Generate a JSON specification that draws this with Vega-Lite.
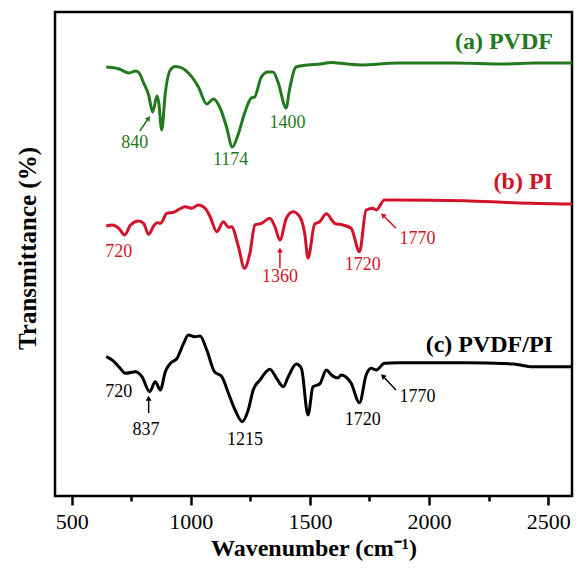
{
  "$schema": "https://vega.github.io/schema/vega-lite/v6.json",
  "width": 517,
  "height": 484,
  "autosize": {"type": "none"},
  "padding": {"left": 55, "top": 12, "right": 5, "bottom": 72},
  "config": {
    "view": {"stroke": "black", "strokeWidth": 2.5},
    "font": "Liberation Serif"
  },
  "datasets": {
    "spectra": [
      {"s":"PVDF","wn":645,"T":429},{"s":"PVDF","wn":700,"T":427},{"s":"PVDF","wn":740,"T":423},{"s":"PVDF","wn":768,"T":425},{"s":"PVDF","wn":782,"T":423.5},{"s":"PVDF","wn":802,"T":413},{"s":"PVDF","wn":823,"T":401},{"s":"PVDF","wn":840,"T":384},{"s":"PVDF","wn":858,"T":400},{"s":"PVDF","wn":865,"T":394},{"s":"PVDF","wn":878,"T":366},{"s":"PVDF","wn":893,"T":403},{"s":"PVDF","wn":914,"T":426},{"s":"PVDF","wn":935,"T":429.5},{"s":"PVDF","wn":963,"T":428},{"s":"PVDF","wn":990,"T":423},{"s":"PVDF","wn":1032,"T":409},{"s":"PVDF","wn":1067,"T":392},{"s":"PVDF","wn":1095,"T":397},{"s":"PVDF","wn":1123,"T":388},{"s":"PVDF","wn":1150,"T":369},{"s":"PVDF","wn":1174,"T":349},{"s":"PVDF","wn":1198,"T":361},{"s":"PVDF","wn":1226,"T":383},{"s":"PVDF","wn":1254,"T":398},{"s":"PVDF","wn":1268,"T":399},{"s":"PVDF","wn":1296,"T":419},{"s":"PVDF","wn":1324,"T":424},{"s":"PVDF","wn":1345,"T":424},{"s":"PVDF","wn":1366,"T":414},{"s":"PVDF","wn":1400,"T":388},{"s":"PVDF","wn":1414,"T":406},{"s":"PVDF","wn":1442,"T":429},{"s":"PVDF","wn":1490,"T":431},{"s":"PVDF","wn":1545,"T":432},{"s":"PVDF","wn":1589,"T":433.5},{"s":"PVDF","wn":1615,"T":433},{"s":"PVDF","wn":1714,"T":431},{"s":"PVDF","wn":1870,"T":433},{"s":"PVDF","wn":2100,"T":433},{"s":"PVDF","wn":2316,"T":432},{"s":"PVDF","wn":2450,"T":433},{"s":"PVDF","wn":2600,"T":433},
      {"s":"PI","wn":645,"T":270},{"s":"PI","wn":670,"T":271},{"s":"PI","wn":698,"T":267.7},{"s":"PI","wn":722,"T":261},{"s":"PI","wn":747,"T":271},{"s":"PI","wn":781,"T":275},{"s":"PI","wn":802,"T":272.7},{"s":"PI","wn":823,"T":261.7},{"s":"PI","wn":844,"T":270},{"s":"PI","wn":858,"T":273.3},{"s":"PI","wn":872,"T":272.7},{"s":"PI","wn":900,"T":282.7},{"s":"PI","wn":928,"T":283.7},{"s":"PI","wn":977,"T":289.3},{"s":"PI","wn":1004,"T":287.7},{"s":"PI","wn":1032,"T":291},{"s":"PI","wn":1060,"T":287.7},{"s":"PI","wn":1081,"T":279.3},{"s":"PI","wn":1109,"T":264.3},{"s":"PI","wn":1137,"T":274.3},{"s":"PI","wn":1158,"T":268.7},{"s":"PI","wn":1171,"T":269.3},{"s":"PI","wn":1200,"T":249.3},{"s":"PI","wn":1225,"T":227.7},{"s":"PI","wn":1248,"T":242.7},{"s":"PI","wn":1269,"T":271},{"s":"PI","wn":1297,"T":272.7},{"s":"PI","wn":1332,"T":277.7},{"s":"PI","wn":1353,"T":269.3},{"s":"PI","wn":1374,"T":256},{"s":"PI","wn":1401,"T":277.7},{"s":"PI","wn":1429,"T":284.3},{"s":"PI","wn":1457,"T":279.3},{"s":"PI","wn":1478,"T":262.7},{"s":"PI","wn":1492,"T":238},{"s":"PI","wn":1520,"T":272},{"s":"PI","wn":1541,"T":274.3},{"s":"PI","wn":1569,"T":282.2},{"s":"PI","wn":1604,"T":272.7},{"s":"PI","wn":1638,"T":271},{"s":"PI","wn":1673,"T":267.7},{"s":"PI","wn":1708,"T":244.3},{"s":"PI","wn":1736,"T":286},{"s":"PI","wn":1764,"T":287.7},{"s":"PI","wn":1778,"T":286},{"s":"PI","wn":1813,"T":296},{"s":"PI","wn":1868,"T":296},{"s":"PI","wn":2147,"T":295.3},{"s":"PI","wn":2356,"T":293.3},{"s":"PI","wn":2600,"T":292},
      {"s":"PVDF/PI","wn":645,"T":139.3},{"s":"PVDF/PI","wn":670,"T":136},{"s":"PVDF/PI","wn":698,"T":129.3},{"s":"PVDF/PI","wn":726,"T":122.7},{"s":"PVDF/PI","wn":768,"T":124.3},{"s":"PVDF/PI","wn":795,"T":119.3},{"s":"PVDF/PI","wn":827,"T":104.3},{"s":"PVDF/PI","wn":851,"T":114.3},{"s":"PVDF/PI","wn":872,"T":106},{"s":"PVDF/PI","wn":893,"T":124.3},{"s":"PVDF/PI","wn":914,"T":132.7},{"s":"PVDF/PI","wn":942,"T":137.7},{"s":"PVDF/PI","wn":970,"T":152.7},{"s":"PVDF/PI","wn":990,"T":161},{"s":"PVDF/PI","wn":1016,"T":159.3},{"s":"PVDF/PI","wn":1039,"T":160},{"s":"PVDF/PI","wn":1067,"T":146},{"s":"PVDF/PI","wn":1099,"T":124.3},{"s":"PVDF/PI","wn":1130,"T":119.3},{"s":"PVDF/PI","wn":1158,"T":102.7},{"s":"PVDF/PI","wn":1186,"T":86},{"s":"PVDF/PI","wn":1216,"T":74.3},{"s":"PVDF/PI","wn":1241,"T":86},{"s":"PVDF/PI","wn":1262,"T":106},{"s":"PVDF/PI","wn":1290,"T":116},{"s":"PVDF/PI","wn":1332,"T":126.7},{"s":"PVDF/PI","wn":1360,"T":117.7},{"s":"PVDF/PI","wn":1388,"T":109.3},{"s":"PVDF/PI","wn":1409,"T":119.3},{"s":"PVDF/PI","wn":1443,"T":132},{"s":"PVDF/PI","wn":1464,"T":127.7},{"s":"PVDF/PI","wn":1492,"T":81},{"s":"PVDF/PI","wn":1513,"T":109.3},{"s":"PVDF/PI","wn":1541,"T":112},{"s":"PVDF/PI","wn":1569,"T":126},{"s":"PVDF/PI","wn":1590,"T":121},{"s":"PVDF/PI","wn":1618,"T":118},{"s":"PVDF/PI","wn":1631,"T":121},{"s":"PVDF/PI","wn":1673,"T":112.7},{"s":"PVDF/PI","wn":1708,"T":93.3},{"s":"PVDF/PI","wn":1736,"T":121},{"s":"PVDF/PI","wn":1757,"T":127.7},{"s":"PVDF/PI","wn":1778,"T":126},{"s":"PVDF/PI","wn":1813,"T":132.7},{"s":"PVDF/PI","wn":1868,"T":133.3},{"s":"PVDF/PI","wn":2147,"T":133.3},{"s":"PVDF/PI","wn":2356,"T":132},{"s":"PVDF/PI","wn":2426,"T":129.3},{"s":"PVDF/PI","wn":2600,"T":129.3}
    ],
    "arrows": [
      {"s":"PVDF","x1":786,"y1":365,"x2":823,"y2":378,"ang":35},
      {"s":"PI","x1":1374,"y1":228,"x2":1374,"y2":246,"ang":0},
      {"s":"PI","x1":1861,"y1":267.7,"x2":1806,"y2":281,"ang":-44},
      {"s":"PVDF/PI","x1":823,"y1":83,"x2":823,"y2":97.7,"ang":0},
      {"s":"PVDF/PI","x1":1861,"y1":106,"x2":1806,"y2":120,"ang":-44}
    ],
    "peaks": [
      {"s":"PVDF","wn":765,"T":353,"t":"840"},
      {"s":"PVDF","wn":1167,"T":336,"t":"1174"},
      {"s":"PVDF","wn":1406,"T":373,"t":"1400"},
      {"s":"PI","wn":698,"T":244,"t":"720"},
      {"s":"PI","wn":1374,"T":219,"t":"1360"},
      {"s":"PI","wn":1722,"T":231,"t":"1720"},
      {"s":"PI","wn":1952,"T":257,"t":"1770"},
      {"s":"PVDF/PI","wn":698,"T":104,"t":"720"},
      {"s":"PVDF/PI","wn":812,"T":66,"t":"837"},
      {"s":"PVDF/PI","wn":1227,"T":56,"t":"1215"},
      {"s":"PVDF/PI","wn":1722,"T":76,"t":"1720"},
      {"s":"PVDF/PI","wn":1952,"T":99,"t":"1770"}
    ],
    "names": [
      {"s":"PVDF","wn":2520,"T":454,"t":"(a) PVDF"},
      {"s":"PI","wn":2520,"T":314,"t":"(b) PI"},
      {"s":"PVDF/PI","wn":2520,"T":151,"t":"(c) PVDF/PI"}
    ]
  },
  "layer": [
    {
      "data": {"name": "spectra"},
      "mark": {"type": "line", "strokeWidth": 3, "interpolate": "monotone", "clip": true},
      "encoding": {
        "x": {"field": "wn", "type": "quantitative",
          "scale": {"domain": [430, 2600], "nice": false, "zero": false},
          "axis": {
            "values": [500, 750, 1000, 1250, 1500, 1750, 2000, 2250, 2500],
            "labelExpr": "datum.value % 500 === 0 ? datum.label : ''",
            "format": "d",
            "title": "Wavenumber (cm⁻¹)",
            "titleFont": "Liberation Serif", "titleFontSize": 24, "titleFontWeight": "bold", "titleColor": "black",
            "titlePadding": 4,
            "labelFont": "Liberation Serif", "labelFontSize": 22, "labelColor": "black", "labelPadding": 6,
            "labelFlush": false, "labelOverlap": false,
            "domain": false, "grid": false,
            "tickColor": "black", "tickWidth": 2.5,
            "tickSize": {"condition": {"test": "datum.value % 500 === 0", "value": 9}, "value": 5}
          }
        },
        "y": {"field": "T", "type": "quantitative",
          "scale": {"domain": [0, 484], "nice": false, "zero": false},
          "axis": {
            "labels": false, "ticks": false, "domain": false, "grid": false,
            "title": "Transmittance (%)",
            "titleFont": "Liberation Serif", "titleFontSize": 25, "titleFontWeight": "bold", "titleColor": "black",
            "titleAngle": -90, "titleBaseline": "middle", "titleAlign": "center",
            "titleX": -28, "titleY": 236
          }
        },
        "color": {"field": "s", "type": "nominal",
          "scale": {"domain": ["PVDF", "PI", "PVDF/PI"], "range": ["#237a1e", "#d2142a", "#000000"]},
          "legend": null},
        "detail": {"field": "s"}
      }
    },
    {
      "data": {"name": "arrows"},
      "mark": {"type": "rule", "strokeWidth": 1.5},
      "encoding": {
        "x": {"field": "x1", "type": "quantitative"},
        "y": {"field": "y1", "type": "quantitative"},
        "x2": {"field": "x2"},
        "y2": {"field": "y2"},
        "color": {"field": "s", "type": "nominal", "legend": null}
      }
    },
    {
      "data": {"name": "arrows"},
      "mark": {"type": "point", "shape": "triangle-up", "filled": true, "size": 35, "opacity": 1},
      "encoding": {
        "x": {"field": "x2", "type": "quantitative"},
        "y": {"field": "y2", "type": "quantitative"},
        "angle": {"field": "ang", "type": "quantitative", "scale": null},
        "color": {"field": "s", "type": "nominal", "legend": null}
      }
    },
    {
      "data": {"name": "peaks"},
      "mark": {"type": "text", "font": "Liberation Serif", "fontSize": 18, "align": "center", "baseline": "middle"},
      "encoding": {
        "x": {"field": "wn", "type": "quantitative"},
        "y": {"field": "T", "type": "quantitative"},
        "text": {"field": "t"},
        "color": {"field": "s", "type": "nominal", "legend": null}
      }
    },
    {
      "data": {"name": "names"},
      "mark": {"type": "text", "font": "Liberation Serif", "fontSize": 24, "fontWeight": "bold", "align": "right", "baseline": "middle"},
      "encoding": {
        "x": {"field": "wn", "type": "quantitative"},
        "y": {"field": "T", "type": "quantitative"},
        "text": {"field": "t"},
        "color": {"field": "s", "type": "nominal", "legend": null}
      }
    }
  ]
}
